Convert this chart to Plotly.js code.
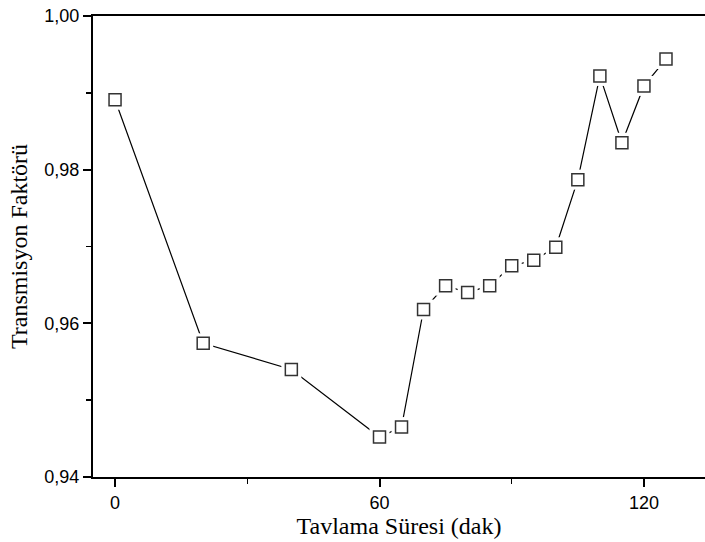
<!DOCTYPE html>
<html>
<head>
<meta charset="utf-8">
<script src="https://cdn.plot.ly/plotly-3.0.1.min.js"></script>
<style>html,body{margin:0;padding:0;background:#fff}#chart{width:705px;height:542px}</style>
</head>
<body>
<div id="chart"></div>
<script>
const annealTime = [0, 20, 40, 60, 65, 70, 75, 80, 85, 90, 95, 100, 105, 110, 115, 120, 125];
const transmission = [0.9891, 0.9574, 0.9540, 0.9452, 0.9465, 0.9618, 0.9649, 0.9640, 0.9649, 0.9675, 0.9682, 0.9699, 0.9787, 0.9922, 0.9835, 0.9909, 0.9944];
const xTitle = 'Tavlama Süresi (dak)';
const yTitle = 'Transmisyon Faktörü';

const traces = [
  {x: annealTime, y: transmission, mode: 'lines', line: {color: '#000', width: 1.2}, hoverinfo: 'skip', showlegend: false},
  {x: annealTime, y: transmission, mode: 'markers', marker: {symbol: 'square', size: 20, color: '#fff', line: {width: 0}}, hoverinfo: 'skip', showlegend: false},
  {x: annealTime, y: transmission, mode: 'markers', marker: {symbol: 'square-open', size: 12, color: '#333', line: {width: 1.5, color: '#333'}}, showlegend: false}
];

const tickFont = {family: 'Arial, Liberation Sans, sans-serif', size: 18, color: '#000'};
const titleFont = {family: 'Times New Roman, Liberation Serif, serif', size: 24, color: '#000'};

const layout = {
  width: 705, height: 542,
  margin: {l: 93, r: 0, t: 16, b: 65},
  paper_bgcolor: '#fff', plot_bgcolor: '#fff',
  separators: ',.',
  showlegend: false,
  xaxis: {
    range: [-5, 133.85], tickvals: [0, 60, 120], ticktext: ['0', '60', '120'],
    ticks: 'outside', ticklen: 8, tickwidth: 2, tickcolor: '#000',
    minor: {tickvals: [30, 90], ticks: 'outside', ticklen: 5, tickwidth: 1.5, tickcolor: '#000'},
    showline: true, linecolor: '#000', linewidth: 2, mirror: true,
    showgrid: false, zeroline: false,
    tickfont: tickFont,
    title: {text: xTitle, font: titleFont, standoff: 0}
  },
  yaxis: {
    range: [0.94, 1.00], dtick: 0.02, tick0: 0.94, tickformat: '.2f',
    ticks: 'outside', ticklen: 8, tickwidth: 2, tickcolor: '#000',
    minor: {dtick: 0.01, ticks: 'outside', ticklen: 5, tickwidth: 1.5, tickcolor: '#000'},
    showline: true, linecolor: '#000', linewidth: 2, mirror: false,
    showgrid: false, zeroline: false,
    tickfont: tickFont,
    title: {text: yTitle, font: titleFont, standoff: 10}
  }
};

Plotly.newPlot('chart', traces, layout, {displayModeBar: false, staticPlot: true});
</script>
</body>
</html>
